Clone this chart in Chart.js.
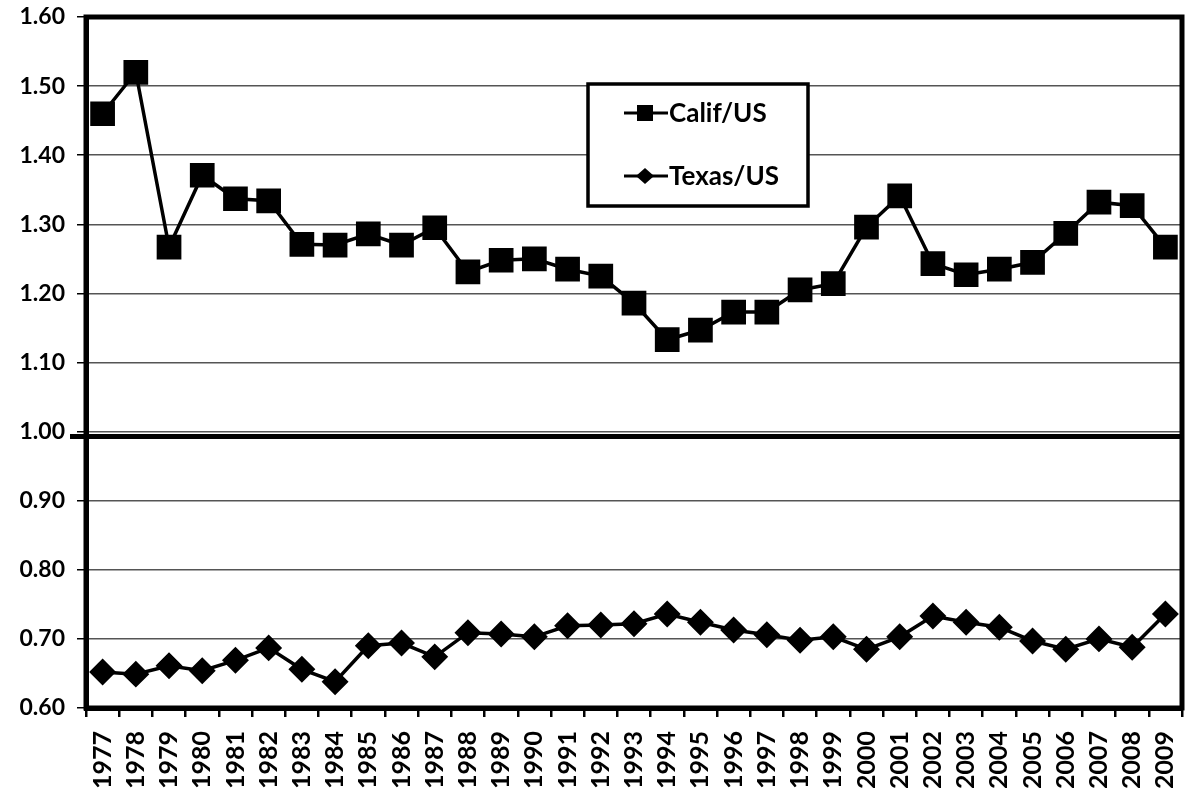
<!DOCTYPE html>
<html>
<head>
<meta charset="utf-8">
<script src="https://cdn.jsdelivr.net/npm/chart.js@4/dist/chart.umd.min.js"></script>
<style>
  html, body { margin: 0; padding: 0; background: #fff; overflow: hidden; }
  #wrap { width: 1185px; height: 796px; position: relative; }
  #lineChart { display: block; }
</style>
</head>
<body>
<div id="wrap"><canvas id="lineChart"></canvas></div>
<script>
// years on the x axis
const years = ["1977","1978","1979","1980","1981","1982","1983","1984","1985","1986","1987",
  "1988","1989","1990","1991","1992","1993","1994","1995","1996","1997","1998","1999",
  "2000","2001","2002","2003","2004","2005","2006","2007","2008","2009"];

// ratio to US
const califUS = [1.46, 1.52, 1.267, 1.371, 1.337, 1.334, 1.271, 1.27, 1.286, 1.27, 1.295,
  1.231, 1.248, 1.25, 1.235, 1.225, 1.186, 1.133, 1.147, 1.173, 1.173, 1.205, 1.214,
  1.296, 1.341, 1.243, 1.227, 1.235, 1.245, 1.287, 1.332, 1.327, 1.267];

const texasUS = [0.652, 0.649, 0.661, 0.654, 0.669, 0.687, 0.656, 0.638, 0.69, 0.694, 0.674,
  0.709, 0.707, 0.703, 0.719, 0.72, 0.722, 0.736, 0.724, 0.713, 0.706, 0.698, 0.703,
  0.685, 0.703, 0.733, 0.724, 0.717, 0.697, 0.685, 0.70, 0.688, 0.736];

const seriesNames = ["Calif/US", "Texas/US"];
const yTicks = { min: 0.6, max: 1.6, step: 0.1 };
const breakValue = 1.0;

const FONT = "Lato, 'Open Sans', sans-serif";

// frame, axis break and legend box
const extras = {
  id: "extras",
  afterDraw(chart) {
    const { ctx, chartArea: a, scales } = chart;
    ctx.save();
    // frame
    ctx.strokeStyle = "#000";
    ctx.lineWidth = 5;
    ctx.strokeRect(a.left, a.top, a.right - a.left, a.bottom - a.top);

    // axis break line just under 1.00
    const yb = scales.y.getPixelForValue(breakValue) + 5;
    ctx.lineWidth = 5;
    ctx.beginPath();
    ctx.moveTo(a.left - 16, yb);
    ctx.lineTo(a.right, yb);
    ctx.stroke();

    // legend box
    const bx = 588, by = 84, bw = 220, bh = 122;
    ctx.fillStyle = "#fff";
    ctx.fillRect(bx, by, bw, bh);
    ctx.lineWidth = 3.5;
    ctx.strokeRect(bx, by, bw, bh);

    const rows = [by + 29, by + 92];
    ctx.font = "bold 26px " + FONT;
    ctx.textBaseline = "middle";
    seriesNames.forEach((name, i) => {
      const y = rows[i];
      ctx.lineWidth = 3;
      ctx.beginPath();
      ctx.moveTo(bx + 36, y);
      ctx.lineTo(bx + 80, y);
      ctx.stroke();
      ctx.fillStyle = "#000";
      ctx.beginPath();
      if (i === 0) {
        ctx.rect(bx + 49, y - 8, 16, 16);
      } else {
        ctx.moveTo(bx + 57 - 9, y);
        ctx.lineTo(bx + 57, y - 8);
        ctx.lineTo(bx + 57 + 9, y);
        ctx.lineTo(bx + 57, y + 8);
        ctx.closePath();
      }
      ctx.fill();
      ctx.fillText(name, bx + 81, y + 1);
    });
    ctx.restore();
  }
};

const ctx = document.getElementById("lineChart").getContext("2d");

new Chart(ctx, {
  type: "line",
  data: {
    labels: years,
    datasets: [
      {
        label: seriesNames[0],
        data: califUS,
        borderColor: "#000",
        backgroundColor: "#000",
        borderWidth: 3.5,
        pointStyle: "rect",
        pointRadius: 15,
        pointHoverRadius: 15,
        fill: false,
        tension: 0
      },
      {
        label: seriesNames[1],
        data: texasUS,
        borderColor: "#000",
        backgroundColor: "#000",
        borderWidth: 3.5,
        pointStyle: "rectRot",
        pointRadius: 11,
        pointHoverRadius: 11,
        fill: false,
        tension: 0
      }
    ]
  },
  options: {
    responsive: true,
    maintainAspectRatio: false,
    animation: false,
    // no auto padding for the big markers, and scale label overflow is zeroed below
    layout: { autoPadding: false, padding: { top: 17, right: 3, left: 0, bottom: 0 } },
    plugins: { legend: { display: false }, tooltip: { enabled: false } },
    scales: {
      x: {
        offset: true,
        grid: { offset: true, drawOnChartArea: false, drawTicks: true, tickLength: 9, color: "#000", lineWidth: 2.5 },
        border: { color: "#000", width: 5 },
        ticks: {
          color: "#000",
          font: { family: FONT, size: 25, weight: "bold" },
          maxRotation: 90,
          minRotation: 90,
          padding: 14,
          autoSkip: false
        },
        afterFit(scale) {
          scale.height = 88;
          scale.paddingLeft = 0;
          scale.paddingRight = 0;
        }
      },
      y: {
        min: yTicks.min,
        max: yTicks.max,
        grid: { color: "#555", lineWidth: 1.5, tickLength: 9, tickColor: "#000" },
        border: { color: "#000", width: 5 },
        ticks: {
          stepSize: yTicks.step,
          color: "#000",
          padding: 12,
          font: { family: FONT, size: 23, weight: "bold" },
          callback: (v) => Number(v).toFixed(2)
        },
        afterFit(scale) {
          scale.width = 86;
          scale.paddingTop = 0;
          scale.paddingBottom = 0;
        }
      }
    }
  },
  plugins: [extras]
});
</script>
</body>
</html>
